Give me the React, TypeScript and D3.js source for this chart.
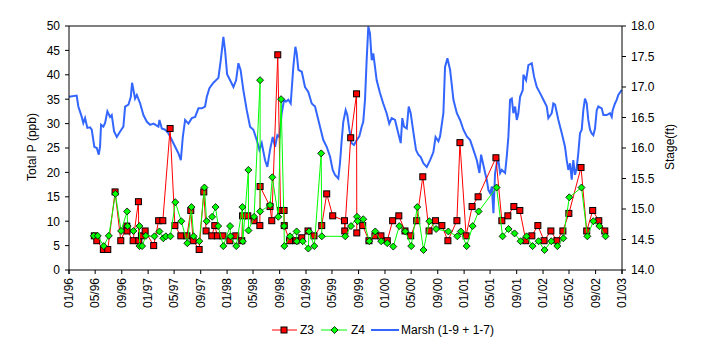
import React from 'react';
import * as d3 from 'd3';

// ---- Data (dates as decimal years) ----
const marshYear = [
  1996.000, 1996.097, 1996.118, 1996.161, 1996.181, 1996.203, 1996.232, 1996.266, 1996.287, 1996.320,
  1996.351, 1996.376, 1996.392, 1996.405, 1996.434, 1996.456, 1996.485, 1996.519, 1996.540, 1996.570,
  1996.604, 1996.646, 1996.687, 1996.709, 1996.751, 1996.781, 1996.797, 1996.814, 1996.835, 1996.857,
  1996.899, 1996.940, 1996.984, 1997.025, 1997.067, 1997.130, 1997.143, 1997.173, 1997.215, 1997.257,
  1997.300, 1997.342, 1997.384, 1997.414, 1997.439, 1997.468, 1997.510, 1997.553, 1997.595, 1997.637,
  1997.680, 1997.721, 1997.743, 1997.776, 1997.827, 1997.890, 1997.920, 1997.953, 1997.975, 1998.000,
  1998.038, 1998.080, 1998.114, 1998.143, 1998.171, 1998.206, 1998.249, 1998.291, 1998.333, 1998.376,
  1998.409, 1998.439, 1998.481, 1998.510, 1998.544, 1998.578, 1998.608, 1998.637, 1998.662, 1998.692,
  1998.722, 1998.747, 1998.776, 1998.806, 1998.839, 1998.865, 1998.882, 1998.903, 1998.946, 1998.987,
  1999.029, 1999.072, 1999.114, 1999.135, 1999.177, 1999.219, 1999.262, 1999.304, 1999.338, 1999.367,
  1999.409, 1999.430, 1999.452, 1999.472, 1999.502, 1999.523, 1999.548, 1999.578, 1999.608, 1999.642,
  1999.675, 1999.705, 1999.725, 1999.747, 1999.768, 1999.789, 1999.810, 1999.832, 1999.852, 1999.895,
  1999.937, 1999.978, 2000.021, 2000.054, 2000.085, 2000.127, 2000.168, 2000.199, 2000.219, 2000.241,
  2000.275, 2000.300, 2000.325, 2000.358, 2000.392, 2000.421, 2000.452, 2000.485, 2000.528, 2000.570,
  2000.611, 2000.639, 2000.675, 2000.696, 2000.738, 2000.759, 2000.789, 2000.823, 2000.865, 2000.908,
  2000.949, 2000.991, 2001.034, 2001.076, 2001.118, 2001.161, 2001.194, 2001.215, 2001.244, 2001.266,
  2001.287, 2001.308, 2001.329, 2001.351, 2001.371, 2001.380, 2001.392, 2001.414, 2001.434, 2001.456,
  2001.477, 2001.519, 2001.540, 2001.561, 2001.582, 2001.604, 2001.624, 2001.646, 2001.667, 2001.687,
  2001.709, 2001.743, 2001.751, 2001.785, 2001.814, 2001.857, 2001.886, 2001.920, 2001.962, 2002.004,
  2002.047, 2002.067, 2002.110, 2002.130, 2002.152, 2002.194, 2002.237, 2002.278, 2002.300, 2002.320,
  2002.342, 2002.363, 2002.383, 2002.405, 2002.426, 2002.446, 2002.468, 2002.490, 2002.510, 2002.531,
  2002.553, 2002.573, 2002.595, 2002.616, 2002.637, 2002.658, 2002.680, 2002.700, 2002.743, 2002.764,
  2002.806, 2002.848, 2002.870, 2002.882, 2002.911, 2002.933, 2002.953, 2002.996,
];
const marshStage = [
  16.84, 16.86, 16.68, 16.51, 16.41, 16.49, 16.33, 16.34, 16.30, 16.02,
  16.00, 15.89, 16.02, 16.38, 16.35, 16.41, 16.60, 16.51, 16.54, 16.27,
  16.18, 16.27, 16.35, 16.68, 16.71, 16.84, 17.07, 16.95, 16.81, 16.87,
  16.73, 16.54, 16.43, 16.38, 16.40, 16.35, 16.46, 16.32, 16.30, 16.24,
  16.13, 16.02, 15.91, 15.80, 16.18, 16.46, 16.40, 16.49, 16.51, 16.65,
  16.65, 16.68, 16.84, 16.98, 17.07, 17.15, 17.44, 17.82, 17.59, 17.21,
  17.11, 17.00, 17.11, 17.39, 17.28, 16.95, 16.62, 16.35, 16.30, 16.13,
  15.97, 16.08, 15.80, 15.69, 15.97, 16.18, 16.02, 16.21, 16.18, 16.57,
  16.79, 16.76, 16.79, 16.73, 17.33, 17.66, 17.55, 17.28, 17.25, 17.00,
  16.92, 16.73, 16.68, 16.57, 16.35, 16.13, 16.02, 15.86, 15.64, 15.56,
  15.50, 15.75, 16.13, 16.43, 16.62, 16.54, 16.30, 16.08, 16.05, 16.13,
  16.19, 16.35, 16.43, 16.79, 17.44, 17.99, 17.88, 17.44, 17.55, 17.11,
  16.90, 16.73, 16.57, 16.40, 16.49, 16.46, 16.24, 16.08, 16.49, 16.35,
  16.32, 16.68, 16.57, 16.27, 15.97, 15.89, 15.85, 15.75, 15.69, 15.80,
  15.93, 16.18, 16.11, 16.19, 16.57, 17.33, 17.47, 17.28, 16.79, 16.57,
  16.46, 16.30, 16.19, 16.13, 15.97, 15.80, 15.59, 15.89, 15.72, 15.59,
  15.48, 15.31, 15.26, 15.37, 14.93, 15.20, 15.59, 15.75, 15.80, 15.59,
  15.64, 15.59, 15.86, 16.19, 16.79, 16.81, 16.57, 16.68, 16.46, 16.57,
  16.84, 16.95, 17.20, 17.11, 17.36, 17.39, 17.17, 17.00, 16.90, 16.79,
  16.68, 16.49, 16.57, 16.73, 16.71, 16.46, 16.24, 16.02, 15.80, 15.64,
  15.75, 15.48, 15.80, 15.56, 15.67, 15.91, 16.24, 16.30, 16.62, 16.81,
  16.73, 16.46, 16.30, 16.24, 16.21, 16.32, 16.62, 16.68, 16.65, 16.54,
  16.54, 16.57, 16.51, 16.62, 16.73, 16.79, 16.87, 16.95,
];

const z3Year = [
  1996.320, 1996.351, 1996.434, 1996.490, 1996.582, 1996.654, 1996.730, 1996.734, 1996.810, 1996.877,
  1996.882, 1996.915, 1996.962, 1997.070, 1997.133, 1997.186, 1997.278, 1997.339, 1997.414, 1997.491,
  1997.540, 1997.570, 1997.646, 1997.705, 1997.734, 1997.806, 1997.844, 1997.877, 1997.947, 1998.035,
  1998.110, 1998.186, 1998.196, 1998.262, 1998.342, 1998.415, 1998.418, 1998.544, 1998.566, 1998.642,
  1998.677, 1998.722, 1998.724, 1998.791, 1998.873, 1998.946, 1999.025, 1999.101, 1999.199, 1999.262,
  1999.338, 1999.487, 1999.491, 1999.566, 1999.640, 1999.643, 1999.718, 1999.797, 1999.873, 1999.949,
  2000.029, 2000.097, 2000.175, 2000.253, 2000.325, 2000.401, 2000.478, 2000.557, 2000.639, 2000.719,
  2000.795, 2000.909, 2000.947, 2001.025, 2001.101, 2001.177, 2001.403, 2001.478, 2001.554, 2001.630,
  2001.706, 2001.782, 2001.858, 2001.934, 2002.013, 2002.099, 2002.175, 2002.251, 2002.327, 2002.481,
  2002.553, 2002.629, 2002.706, 2002.782,
];
const z3Value = [
  7.0, 6.0, 4.2, 4.2, 16.0, 6.0, 9.0, 8.0, 6.0, 14.0,
  6.0, 7.0, 8.0, 5.0, 10.1, 10.1, 29.0, 9.1, 7.0, 7.0,
  12.2, 6.0, 4.2, 16.0, 8.0, 7.0, 9.1, 7.0, 7.0, 6.0,
  7.0, 6.0, 11.1, 11.1, 10.1, 9.1, 17.1, 13.0, 10.1, 44.1,
  12.2, 12.2, 9.1, 6.0, 6.0, 6.6, 8.0, 7.0, 9.1, 15.6,
  11.1, 10.1, 8.0, 27.1, 36.1, 7.6, 9.1, 6.0, 7.0, 7.0,
  6.0, 10.1, 11.1, 8.0, 7.0, 10.1, 19.1, 8.0, 10.1, 9.1,
  6.0, 10.1, 26.1, 7.0, 13.0, 15.0, 23.0, 10.1, 11.1, 13.0,
  12.2, 6.0, 7.0, 9.1, 6.0, 8.0, 6.0, 8.0, 11.6, 21.0,
  8.0, 12.2, 10.1, 8.0,
];

const z4Year = [
  1996.313, 1996.363, 1996.439, 1996.503, 1996.586, 1996.658, 1996.734, 1996.741, 1996.814, 1996.890,
  1996.891, 1996.924, 1996.971, 1997.080, 1997.143, 1997.192, 1997.225, 1997.282, 1997.344, 1997.420,
  1997.496, 1997.548, 1997.576, 1997.648, 1997.713, 1997.741, 1997.810, 1997.854, 1997.887, 1997.952,
  1998.038, 1998.044, 1998.116, 1998.194, 1998.199, 1998.270, 1998.271, 1998.342, 1998.418, 1998.419,
  1998.544, 1998.573, 1998.649, 1998.684, 1998.722, 1998.725, 1998.797, 1998.881, 1998.884, 1998.958,
  1999.029, 1999.038, 1999.105, 1999.192, 1999.200, 1999.497, 1999.570, 1999.646, 1999.654, 1999.725,
  1999.801, 1999.877, 1999.952, 2000.029, 2000.105, 2000.181, 2000.257, 2000.332, 2000.408, 2000.487,
  2000.561, 2000.646, 2000.801, 2000.914, 2000.958, 2001.032, 2001.108, 2001.184, 2001.411, 2001.487,
  2001.563, 2001.639, 2001.715, 2001.791, 2001.867, 2001.943, 2002.019, 2002.104, 2002.181, 2002.257,
  2002.332, 2002.487, 2002.561, 2002.637, 2002.713, 2002.791,
];
const z4Value = [
  7.0, 7.0, 4.9, 7.0, 15.6, 8.0, 12.0, 9.0, 8.0, 9.0,
  4.9, 4.9, 7.0, 6.9, 7.9, 6.5, 6.9, 6.9, 13.9, 10.0,
  5.5, 12.9, 6.9, 5.9, 16.9, 10.0, 10.9, 12.9, 9.0, 4.9,
  9.0, 6.9, 4.9, 12.9, 5.9, 20.5, 8.1, 10.9, 38.9, 12.0,
  13.3, 19.0, 10.9, 35.0, 9.0, 4.9, 6.9, 7.9, 5.9, 5.9,
  4.4, 7.9, 4.9, 23.9, 6.9, 6.9, 9.0, 10.9, 10.0, 10.4,
  5.9, 7.9, 5.9, 5.5, 4.8, 9.0, 7.9, 4.9, 12.9, 4.1,
  10.0, 8.4, 7.9, 6.9, 7.9, 4.9, 9.0, 12.0, 16.9, 6.9,
  8.4, 7.5, 5.9, 6.9, 4.9, 5.9, 4.1, 5.9, 4.9, 6.5,
  14.9, 16.9, 6.9, 10.0, 9.0, 6.9,
];

const xTickLabels = [
  '01/96', '05/96', '09/96', '01/97', '05/97', '09/97', '01/98', '05/98', '09/98', '01/99', '05/99',
  '09/99', '01/00', '05/00', '09/00', '01/01', '05/01', '09/01', '01/02', '05/02', '09/02', '01/03',
];
const leftTicks = [0, 5, 10, 15, 20, 25, 30, 35, 40, 45, 50];
const rightTicks = [14.0, 14.5, 15.0, 15.5, 16.0, 16.5, 17.0, 17.5, 18.0];

const seriesNames = ['Z3', 'Z4', 'Marsh (1-9 + 1-7)'];

// ---- helpers ----
const yearToDate = (y: number) => {
  const Y = Math.floor(y);
  const a = Date.UTC(Y, 0, 1);
  const b = Date.UTC(Y + 1, 0, 1);
  return new Date(a + (y - Y) * (b - a));
};
const labelToDate = (s: string) => {
  const [m, yy] = s.split('/').map(Number);
  return new Date(Date.UTC(yy < 50 ? 2000 + yy : 1900 + yy, m - 1, 1));
};

const FONT = 'Arial, "Liberation Sans", sans-serif';
const W = 705;
const H = 353;
const PL = 69, PR = 622, PT = 26, PB = 270;

export default function App() {
  const x = d3.scaleUtc()
    .domain([labelToDate(xTickLabels[0]), labelToDate(xTickLabels[xTickLabels.length - 1])])
    .range([PL, PR]);
  const yL = d3.scaleLinear().domain([0, 50]).range([PB, PT]);
  const yR = d3.scaleLinear().domain([14, 18]).range([PB, PT]);

  const marsh = marshYear.map((t, i) => [yearToDate(t), marshStage[i]] as [Date, number]);
  const z3 = z3Year.map((t, i) => [yearToDate(t), z3Value[i]] as [Date, number]);
  const z4 = z4Year.map((t, i) => [yearToDate(t), z4Value[i]] as [Date, number]);

  const lineL = d3.line<[Date, number]>().x(d => x(d[0])).y(d => yL(d[1]));
  const lineR = d3.line<[Date, number]>().x(d => x(d[0])).y(d => yR(d[1]));

  const diamond = (cx: number, cy: number, r: number) =>
    `M${cx},${cy - r}L${cx + r},${cy}L${cx},${cy + r}L${cx - r},${cy}Z`;

  const legendY = 330;

  return (
    <svg width={W} height={H} style={{ position: 'absolute', left: 0, top: 0, background: '#fff' }}
      fontFamily={FONT}>
      <rect x={0} y={0} width={W} height={H} fill="#fff" />
      {/* Marsh */}
      <path d={lineR(marsh) || ''} fill="none" stroke="#3366ff" strokeWidth={2} strokeLinejoin="miter" />
      {/* Z3 */}
      <path d={lineL(z3) || ''} fill="none" stroke="#ff0000" strokeWidth={1} />
      {z3.map((d, i) => (
        <rect key={'z3' + i} x={x(d[0]) - 3} y={yL(d[1]) - 3} width={6} height={6}
          fill="#ff0000" stroke="#000" strokeWidth={1} />
      ))}
      {/* Z4 */}
      <path d={lineL(z4) || ''} fill="none" stroke="#00ff00" strokeWidth={1} />
      {z4.map((d, i) => (
        <path key={'z4' + i} d={diamond(x(d[0]), yL(d[1]), 3.5)} fill="#00ff00" stroke="#000" strokeWidth={0.8} />
      ))}

      {/* frame */}
      <line x1={PL} x2={PR} y1={PT} y2={PT} stroke="#000" />
      <line x1={PL} x2={PR} y1={PB} y2={PB} stroke="#000" />
      <line x1={PL} x2={PL} y1={PT} y2={PB + 4} stroke="#000" />
      <line x1={PR} x2={PR} y1={PT} y2={PB + 4} stroke="#000" />

      {/* left axis */}
      {leftTicks.map(t => (
        <g key={'l' + t}>
          <line x1={PL - 4} x2={PL} y1={yL(t)} y2={yL(t)} stroke="#000" />
          <text x={PL - 9} y={yL(t) + 4.3} textAnchor="end" fontSize={12}>{t}</text>
        </g>
      ))}
      {/* right axis */}
      {rightTicks.map(t => (
        <g key={'r' + t}>
          <line x1={PR} x2={PR + 4} y1={yR(t)} y2={yR(t)} stroke="#000" />
          <text x={PR + 9} y={yR(t) + 4.3} textAnchor="start" fontSize={12}>{t.toFixed(1)}</text>
        </g>
      ))}
      {/* x axis */}
      {xTickLabels.map(s => {
        const px = x(labelToDate(s));
        return (
          <g key={'x' + s}>
            <line x1={px} x2={px} y1={PB} y2={PB + 4} stroke="#000" />
            <text transform={`translate(${px + 4.3},${PB + 8}) rotate(-90)`} textAnchor="end" fontSize={12}>{s}</text>
          </g>
        );
      })}

      {/* axis titles */}
      <text transform={`translate(36,147) rotate(-90)`} textAnchor="middle" fontSize={12}>Total P (ppb)</text>
      <text transform={`translate(674,147) rotate(-90)`} textAnchor="middle" fontSize={12}>Stage(ft)</text>

      {/* legend */}
      <line x1={272} x2={297} y1={legendY} y2={legendY} stroke="#ff0000" />
      <rect x={281} y={legendY - 3} width={6} height={6} fill="#ff0000" stroke="#000" />
      <text x={300} y={legendY + 4.3} fontSize={12}>{seriesNames[0]}</text>
      <line x1={321} x2={347} y1={legendY} y2={legendY} stroke="#00ff00" />
      <path d={diamond(334.5, legendY, 3.5)} fill="#00ff00" stroke="#000" strokeWidth={0.8} />
      <text x={351} y={legendY + 4.3} fontSize={12}>{seriesNames[1]}</text>
      <line x1={371} x2={399} y1={legendY} y2={legendY} stroke="#3366ff" strokeWidth={2} />
      <text x={401} y={legendY + 4.3} fontSize={12}>{seriesNames[2]}</text>
    </svg>
  );
}
